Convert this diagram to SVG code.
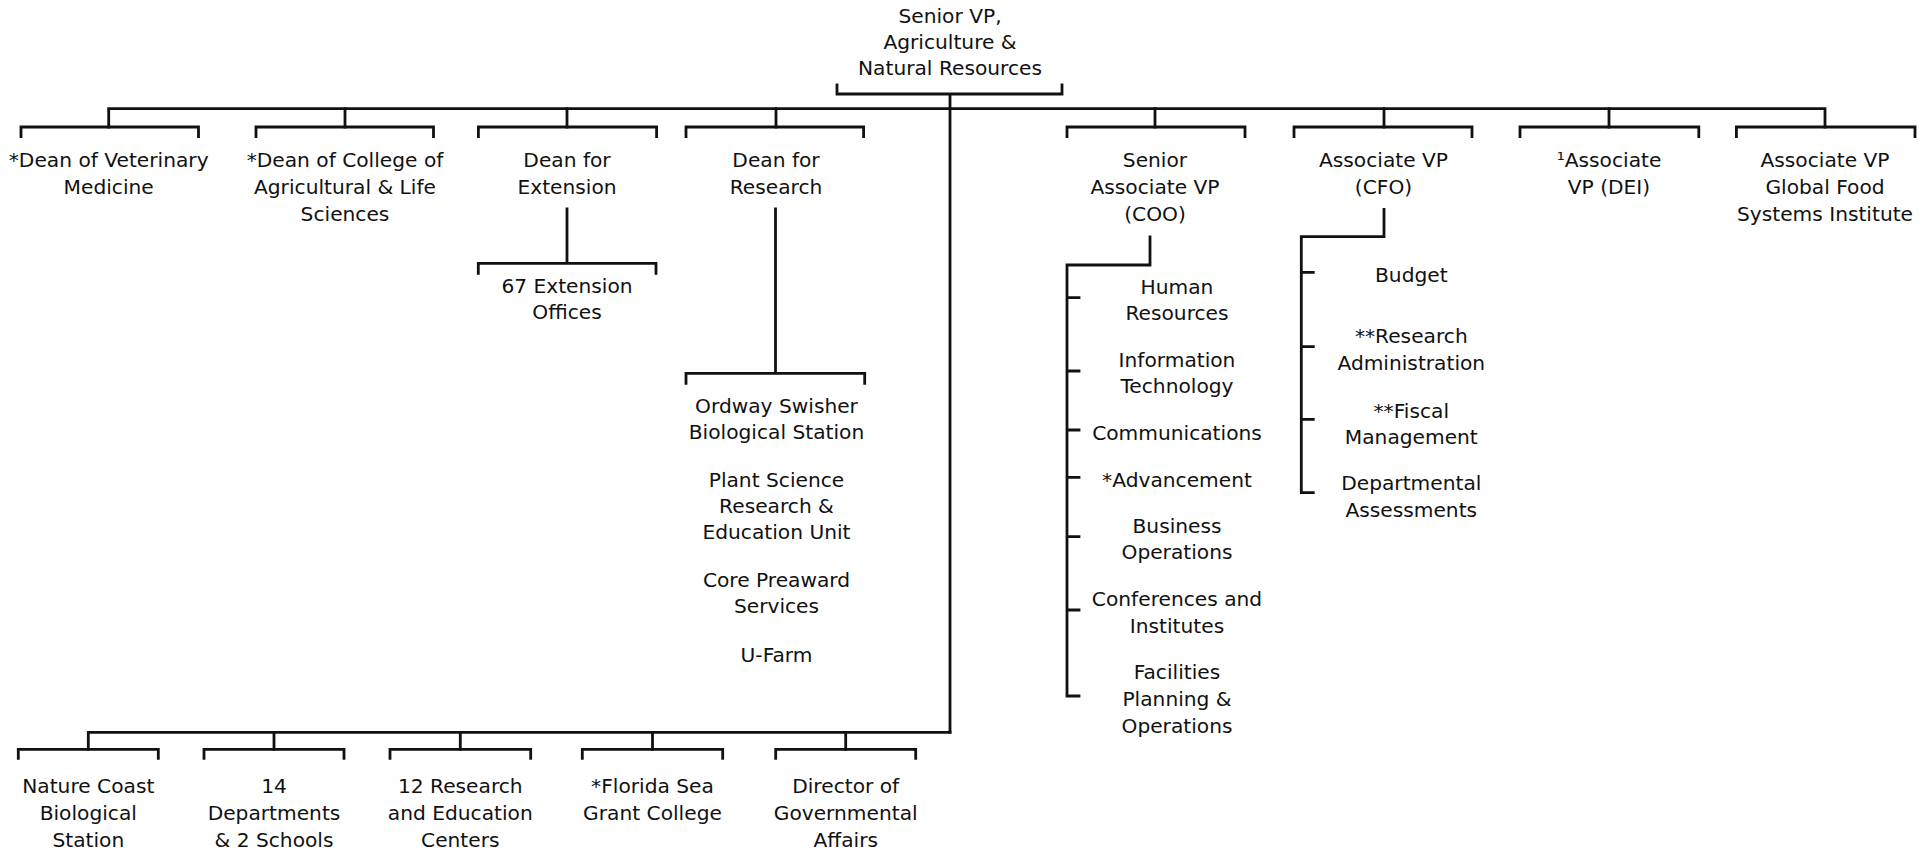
<svg xmlns="http://www.w3.org/2000/svg" width="1931" height="851" viewBox="0 0 1931 851">
<style>
text{font-family:"DejaVu Sans","Liberation Sans",sans-serif;font-size:20.2px;fill:#111;text-anchor:middle}
.c{fill:none;stroke:#111;stroke-width:2.8;stroke-linecap:square;stroke-linejoin:miter}
</style>
<rect width="1931" height="851" fill="#fff"/>
<g id="connectors" class="c">
<path d="M837,85V94H1062V85M950,94V732"/>
<path d="M108.7,127V108.7H1825V127"/>
<path d="M345,108.7V127M567,108.7V127M776,108.7V127M1155,108.7V127M1384,108.7V127M1609,108.7V127"/>
<path d="M21,136.7V127H198.5V136.7M256,136.7V127H433.5V136.7M478.4,136.7V127H656.6V136.7M686,136.7V127H863.6V136.7"/>
<path d="M1067,136.7V127H1245V136.7M1294,136.7V127H1472V136.7M1520,136.7V127H1698.8V136.7M1736.4,136.7V127H1915V136.7"/>
<path d="M567,209V263.3M478.3,273.3V263.3H656V273.3"/>
<path d="M775.5,209V373.3M686,383.3V373.3H864.7V383.3"/>
<path d="M1150,237V265H1067V696H1079M1067,297.7H1079M1067,371H1079M1067,430H1079M1067,477.3H1079M1067,536.7H1079M1067,610H1079"/>
<path d="M1384,209.3V236.7H1301.3V492.7H1313.3M1301.3,272.3H1313.3M1301.3,346.7H1313.3M1301.3,419.3H1313.3"/>
<path d="M950,732V732.3H88.3V749.3M274,732.3V749.3M460.3,732.3V749.3M652.5,732.3V749.3M845.7,732.3V749.3"/>
<path d="M18.3,758.3V749.3H158.3V758.3M204,758.3V749.3H344V758.3M390,758.3V749.3H530.7V758.3M582.3,758.3V749.3H722.7V758.3M775.7,758.3V749.3H915.7V758.3"/>
</g>
<g id="senior-vp"><text x="950" y="23">Senior VP,</text><text x="950" y="49">Agriculture &amp;</text><text x="950" y="75">Natural Resources</text></g>
<g id="dean-vet"><text x="108.7" y="167.3">*Dean of Veterinary</text><text x="108.7" y="194">Medicine</text></g>
<g id="dean-cals"><text x="345" y="167.3">*Dean of College of</text><text x="345" y="194">Agricultural &amp; Life</text><text x="345" y="220.7">Sciences</text></g>
<g id="dean-extension"><text x="567" y="167.3">Dean for</text><text x="567" y="194">Extension</text></g>
<g id="dean-research"><text x="776" y="167.3">Dean for</text><text x="776" y="194">Research</text></g>
<g id="coo"><text x="1155" y="167.3">Senior</text><text x="1155" y="194">Associate VP</text><text x="1155" y="220.7">(COO)</text></g>
<g id="cfo"><text x="1383.5" y="167.3">Associate VP</text><text x="1383.5" y="194">(CFO)</text></g>
<g id="dei"><text x="1609" y="167.3">¹Associate</text><text x="1609" y="194">VP (DEI)</text></g>
<g id="gfsi"><text x="1825" y="167.3">Associate VP</text><text x="1825" y="194">Global Food</text><text x="1825" y="220.7">Systems Institute</text></g>
<g id="extension-offices"><text x="567" y="292.7">67 Extension</text><text x="567" y="319.3">Offices</text></g>
<g id="research-units"><text x="776.5" y="412.7">Ordway Swisher</text><text x="776.5" y="439.3">Biological Station</text><text x="776.5" y="486.7">Plant Science</text><text x="776.5" y="513.3">Research &amp;</text><text x="776.5" y="539.3">Education Unit</text><text x="776.5" y="587.3">Core Preaward</text><text x="776.5" y="613.3">Services</text><text x="776.5" y="661.7">U-Farm</text></g>
<g id="coo-units"><text x="1177" y="294.3">Human</text><text x="1177" y="320">Resources</text><text x="1177" y="366.7">Information</text><text x="1177" y="392.7">Technology</text><text x="1177" y="440">Communications</text><text x="1177" y="486.7">*Advancement</text><text x="1177" y="533.3">Business</text><text x="1177" y="559">Operations</text><text x="1177" y="606">Conferences and</text><text x="1177" y="632.7">Institutes</text><text x="1177" y="679.3">Facilities</text><text x="1177" y="706">Planning &amp;</text><text x="1177" y="732.7">Operations</text></g>
<g id="cfo-units"><text x="1411.3" y="281.7">Budget</text><text x="1411.3" y="343.3">**Research</text><text x="1411.3" y="370">Administration</text><text x="1411.3" y="417.7">**Fiscal</text><text x="1411.3" y="444">Management</text><text x="1411.3" y="490">Departmental</text><text x="1411.3" y="516.7">Assessments</text></g>
<g id="nature-coast"><text x="88.3" y="793.3">Nature Coast</text><text x="88.3" y="820">Biological</text><text x="88.3" y="846.7">Station</text></g>
<g id="departments"><text x="274" y="793.3">14</text><text x="274" y="820">Departments</text><text x="274" y="846.7">&amp; 2 Schools</text></g>
<g id="rec"><text x="460.3" y="793.3">12 Research</text><text x="460.3" y="820">and Education</text><text x="460.3" y="846.7">Centers</text></g>
<g id="sea-grant"><text x="652.5" y="793.3">*Florida Sea</text><text x="652.5" y="820">Grant College</text></g>
<g id="gov-affairs"><text x="845.7" y="793.3">Director of</text><text x="845.7" y="820">Governmental</text><text x="845.7" y="846.7">Affairs</text></g>
</svg>
